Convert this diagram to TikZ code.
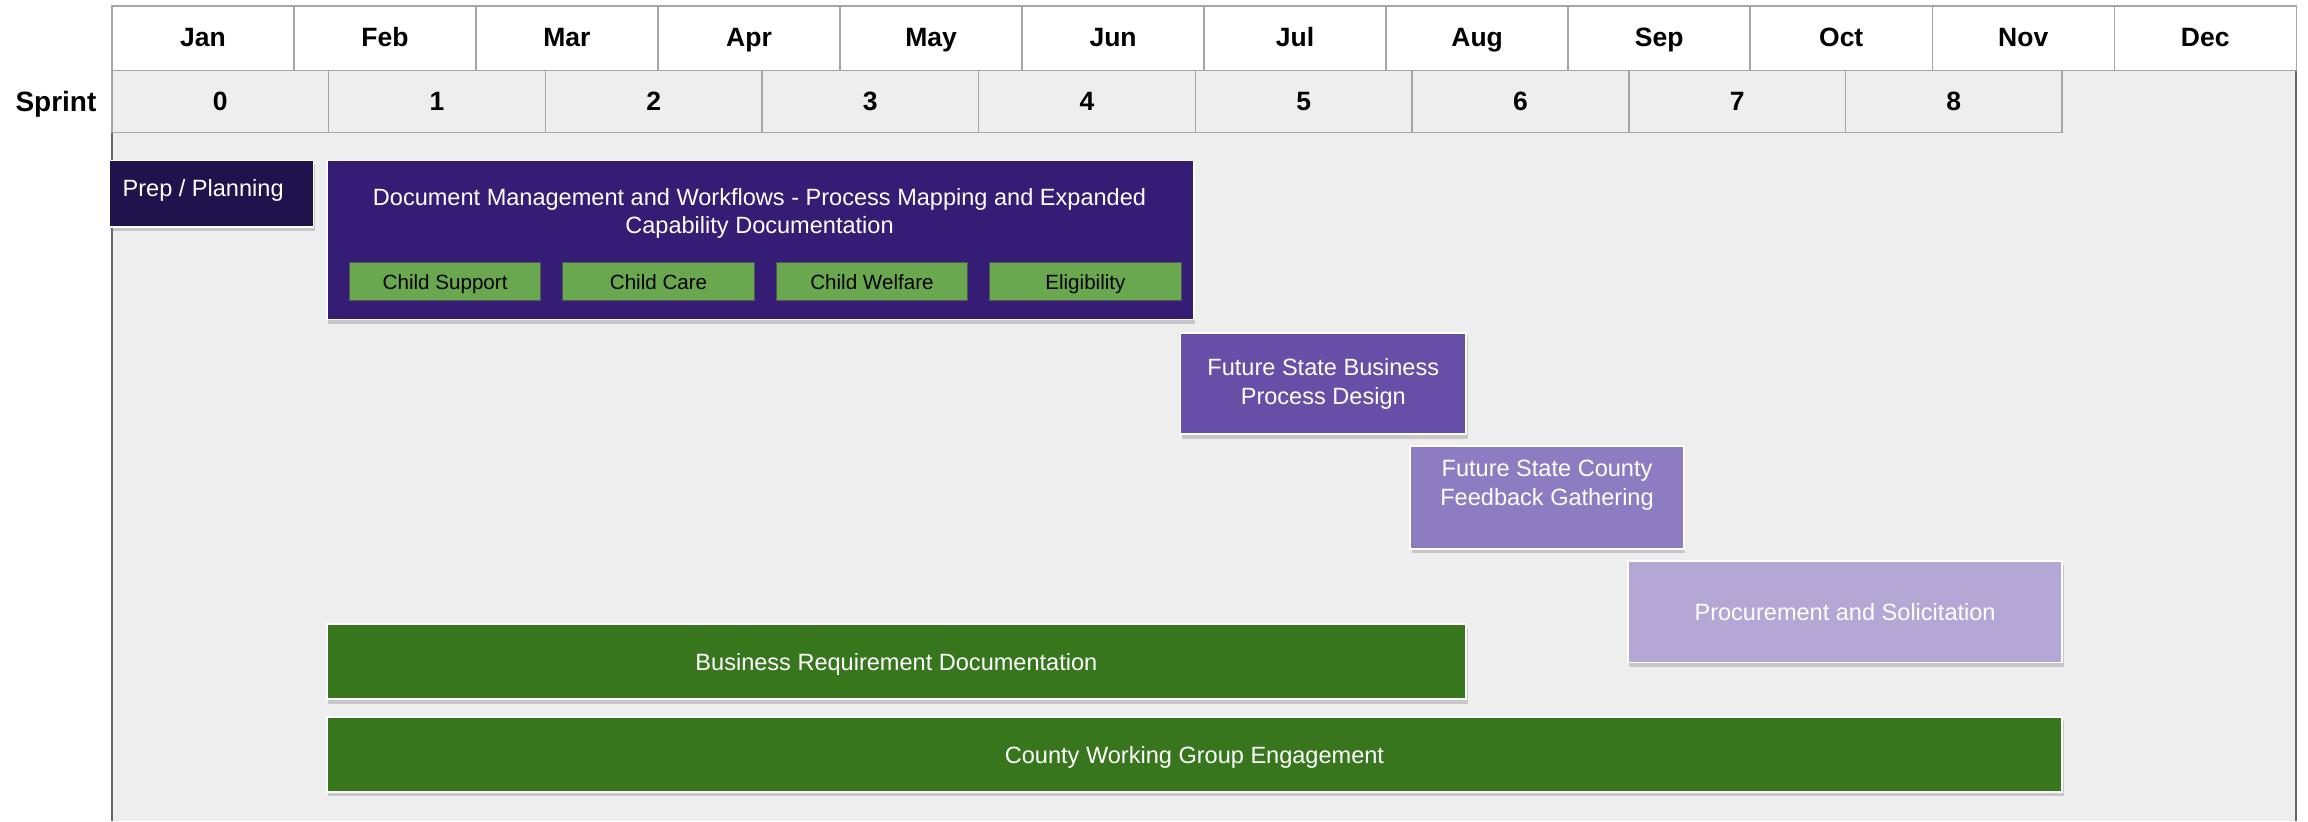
\documentclass[tikz,border=0pt]{standalone}
\usepackage{fontspec}
\setmainfont{Liberation Sans}
\usetikzlibrary{shadows}
\definecolor{bggray}{HTML}{EEEEEE}
\definecolor{gridgray}{HTML}{A6A6A6}
\definecolor{framegray}{HTML}{666666}
\definecolor{purpA}{HTML}{20124D}
\definecolor{purpB}{HTML}{351C75}
\definecolor{purpC}{HTML}{674EA7}
\definecolor{purpD}{HTML}{8E7CC3}
\definecolor{purpE}{HTML}{B4A7D6}
\definecolor{greenA}{HTML}{38761D}
\definecolor{greenB}{HTML}{6AA84F}
\definecolor{subedge}{HTML}{555555}
\begin{document}
\begin{tikzpicture}[x=1pt,y=-1pt,
  monthcell/.style={draw=gridgray, line width=1pt, fill=white, inner sep=0pt, outer sep=0pt,
    minimum width=123.67pt, minimum height=44pt, anchor=north west,
    text height=13pt, text depth=2pt,
    font=\bfseries\fontsize{18}{20}\selectfont},
  sprintcell/.style={draw=gridgray, line width=1pt, fill=bggray, inner sep=0pt, outer sep=0pt,
    minimum width=147.22pt, minimum height=42pt, anchor=north west,
    text height=13pt, text depth=1pt,
    font=\bfseries\fontsize{18}{20}\selectfont},
  taskbox/.style={draw=white, line width=1.2pt, inner sep=0pt, outer sep=0pt, anchor=north west,
    drop shadow={opacity=0.35, shadow xshift=1pt, shadow yshift=-3pt}},
  tasktext/.style={text=white, align=center, inner sep=0pt, font=\fontsize{16}{19.5}\selectfont},
  subtask/.style={draw=subedge, line width=0.8pt, fill=greenB, inner sep=0pt, anchor=north west,
    minimum width=130pt, minimum height=26pt, text height=10pt, text depth=0pt,
    font=\fontsize{14}{16}\selectfont},
  framestroke/.style={draw=framegray, line width=1.3pt}
]
\useasboundingbox (0,0) rectangle (1568,558);
\fill[bggray] (76,48) rectangle (1560,558);
\draw[framestroke] (76,48) -- (76,558);
\draw[framestroke] (1560,48) -- (1560,558);

% months
\foreach \m [count=\i from 0] in {Jan,Feb,Mar,Apr,May,Jun,Jul,Aug,Sep,Oct,Nov,Dec}
  \node[monthcell] (m\i) at ({76+123.67*\i},4) {\m};

% sprints
\node[font=\bfseries\fontsize{19}{21}\selectfont, text height=13.5pt, text depth=0pt, inner sep=0pt] (sprintlbl) at (38,69) {Sprint};
\foreach \s in {0,...,8}
  \node[sprintcell] (s\s) at ({76+147.22*\s},48) {\s};

% tasks
\node[taskbox, fill=purpA, minimum width=139pt, minimum height=45pt] (prep) at (74,109) {};
\node[tasktext, text height=11.5pt, text depth=0pt] (preptxt) at (138,128) {Prep / Planning};

\node[taskbox, fill=purpB, minimum width=589pt, minimum height=108pt] (docm) at (222,109) {};
\node[tasktext] (docmtxt) at (516,145) {Document Management and Workflows - Process Mapping and Expanded\\Capability Documentation};
\node[subtask] (cs) at (237,178) {Child Support};
\node[subtask] (cc) at (382,178) {Child Care};
\node[subtask] (cw) at (527,178) {Child Welfare};
\node[subtask] (el) at (672,178) {Eligibility};

\node[taskbox, fill=purpC, minimum width=194pt, minimum height=69pt] (fsbpd) at (802,226) {};
\node[tasktext] (fsbpdtxt) at (899,261) {Future State Business\\Process Design};

\node[taskbox, fill=purpD, minimum width=186pt, minimum height=70pt] (fscfg) at (958,303) {};
\node[tasktext] (fscfgtxt) at (1051,329.5) {Future State County\\Feedback Gathering};

\node[taskbox, fill=purpE, minimum width=295pt, minimum height=69pt] (proc) at (1106,381) {};
\node[tasktext, text height=11.5pt, text depth=0pt] (proctxt) at (1253.5,416) {Procurement and Solicitation};

\node[taskbox, fill=greenA, minimum width=774pt, minimum height=51pt] (brd) at (222,424) {};
\node[tasktext, text height=11.5pt, text depth=0pt] (brdtxt) at (609,449.5) {Business Requirement Documentation};

\node[taskbox, fill=greenA, minimum width=1179pt, minimum height=51pt] (cwg) at (222,487) {};
\node[tasktext, text height=11.5pt, text depth=0pt] (cwgtxt) at (811.5,513) {County Working Group Engagement};
\end{tikzpicture}
\end{document}
